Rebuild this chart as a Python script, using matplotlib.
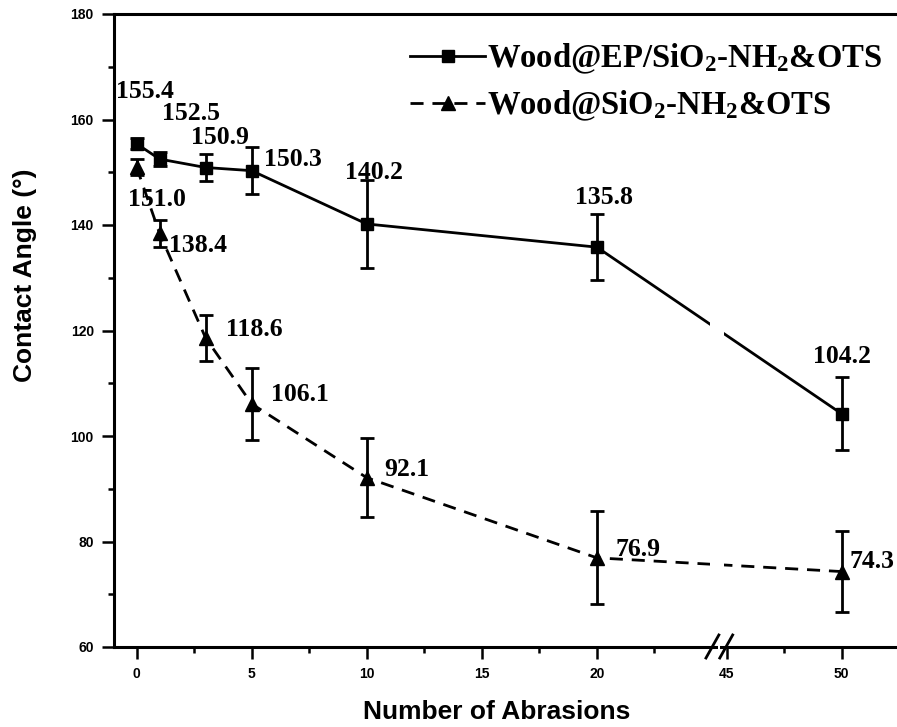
import numpy as np
import matplotlib
matplotlib.use('Agg')
import matplotlib.pyplot as plt
from matplotlib.ticker import FixedLocator
from matplotlib.patches import Rectangle
import matplotlib.transforms as mtransforms

# contact angle vs number of abrasions
abrasions = [0, 1, 3, 5, 10, 20, 50]
ca_ep = [155.4, 152.5, 150.9, 150.3, 140.2, 135.8, 104.2]
err_ep = [1.0, 1.4, 2.6, 4.5, 8.4, 6.2, 6.9]
ca_plain = [151.0, 138.4, 118.6, 106.1, 92.1, 76.9, 74.3]
err_plain = [1.5, 2.5, 4.3, 6.8, 7.5, 8.8, 7.7]

name_ep = 'Wood@EP/SiO$_2$-NH$_2$&OTS'
name_plain = 'Wood@SiO$_2$-NH$_2$&OTS'

x_major = [0, 5, 10, 15, 20, 45, 50]
x_minor = [2.5, 7.5, 12.5, 17.5, 22.5, 47.5]
y_major = [60, 80, 100, 120, 140, 160, 180]
y_minor = [70, 90, 110, 130, 150, 170]

# label offsets in pixels (dx, dy), up is positive
off_ep = [(8, 52), (31, 46), (14, 30), (41, 11), (7, 51), (7, 50), (0, 57)]
off_plain = [(20, -33), (38, -12), (49, 8), (48, 9), (40, 8), (41, 8), (30, 10)]

# broken x axis: 25.3 .. 44.67 is squeezed out
BRK_LO, BRK_HI = 25.3, 44.67
xp = [-100, BRK_LO, BRK_HI, 200]
fp = [-100, BRK_LO, BRK_LO + 0.01, BRK_LO + 0.01 + (200 - BRK_HI)]


def fwd(x):
    return np.interp(x, xp, fp)


def inv(x):
    return np.interp(x, fp, xp)


plt.rcParams['font.family'] = 'Liberation Sans'
plt.rcParams['font.weight'] = 'bold'
plt.rcParams['mathtext.default'] = 'regular'

fig = plt.figure(figsize=(8.97, 7.27), dpi=100)
ax = fig.add_axes([114 / 897, 80 / 727, 783 / 897, 633 / 727])
ax.set_xscale('function', functions=(fwd, inv))

eb1 = ax.errorbar(abrasions, ca_ep, yerr=err_ep, color='k', marker='s', ms=8,
                  lw=2, elinewidth=2, capsize=5, capthick=2, label=name_ep)
eb2 = ax.errorbar(abrasions, ca_plain, yerr=err_plain, color='k', marker='^', ms=10,
                  lw=2, elinewidth=2, capsize=5, capthick=2, label=name_plain)
eb2.lines[0].set_dashes([4.7, 3.2])

# gap in the data lines at the break
ax.axvspan(24.9, 44.9, ymin=0.02, ymax=0.98, color='white', zorder=2.1, lw=0)

serif = dict(family='Liberation Serif', weight='bold', size=18.5)
for x, y, o in zip(abrasions, ca_ep, off_ep):
    ax.annotate(f'{y:.1f}', (x, y), xytext=o, textcoords='offset pixels',
                ha='center', va='center', **serif)
for x, y, o in zip(abrasions, ca_plain, off_plain):
    ax.annotate(f'{y:.1f}', (x, y), xytext=o, textcoords='offset pixels',
                ha='center', va='center', **serif)

ax.set_xlim(-0.98, 52.4)
ax.set_ylim(60, 180)
ax.xaxis.set_major_locator(FixedLocator(x_major))
ax.xaxis.set_minor_locator(FixedLocator(x_minor))
ax.yaxis.set_major_locator(FixedLocator(y_major))
ax.yaxis.set_minor_locator(FixedLocator(y_minor))
ax.set_xticklabels([str(v) for v in x_major])
ax.tick_params(which='major', direction='out', length=8.5, width=1.8, labelsize=10, pad=6)
ax.tick_params(which='minor', direction='out', length=4.5, width=1.8)
for t in ax.get_xticklabels() + ax.get_yticklabels():
    t.set_fontweight('bold')

ax.spines['right'].set_visible(False)
for s in ['left', 'top', 'bottom']:
    ax.spines[s].set_linewidth(2.2)

# break marks on the x axis
tr = mtransforms.blended_transform_factory(ax.transData, ax.transAxes)
ax.add_patch(Rectangle((BRK_LO - 0.05, -0.01), 44.72 - BRK_LO + 0.05, 0.02,
                       transform=tr, color='white', clip_on=False, zorder=4, lw=0))
ax.plot([24.74, 25.3], [-0.0174, 0.019], transform=tr, color='k', lw=2,
        clip_on=False, zorder=5)
ax.plot([44.70, 45.26], [-0.0174, 0.019], transform=tr, color='k', lw=2,
        clip_on=False, zorder=5)

ax.set_xlabel('Number of Abrasions', fontsize=19, fontweight='bold')
ax.xaxis.set_label_coords(0.489, -0.083)
ax.set_ylabel('Contact Angle (°)', fontsize=19, fontweight='bold', va='center')
ax.yaxis.set_label_coords(-0.1137, 0.588)

ax.legend(handles=[eb1.lines[0], eb2.lines[0]], labels=[name_ep, name_plain],
          loc='upper left', bbox_to_anchor=(410 / 897, 1 - 42 / 727),
          bbox_transform=fig.transFigure, frameon=False, handlelength=2.3,
          handletextpad=0.05, labelspacing=0.38, borderpad=0, borderaxespad=0,
          prop=dict(family='Liberation Serif', weight='bold', size=23.5))

fig.savefig('out.png', dpi=100)
